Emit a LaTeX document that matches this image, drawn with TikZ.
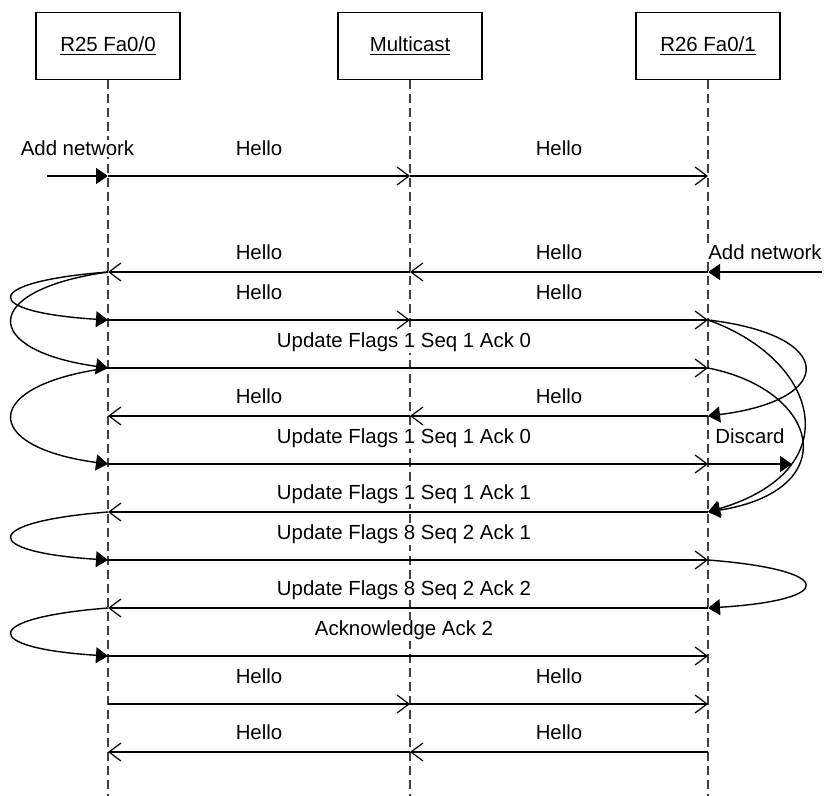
\documentclass[tikz,border=0pt]{standalone}
\usepackage{fontspec}
\setmainfont{Liberation Sans}
\usetikzlibrary{arrows.meta,positioning}

\begin{document}
\begin{tikzpicture}[
  x=0.5pt, y=-0.5pt,
  every node/.style={font=\fontsize{10.2}{12}\selectfont},
  obj/.style={draw, line width=0.6pt, minimum width=72pt,
    minimum height=33.5pt, inner sep=0pt},
  life/.style={line width=0.6pt, black!75, dash pattern=on 4.5pt off 2.5pt},
  msg/.style={line width=0.6pt, -{Straight Barb[length=6pt,width=9pt]}},
  ext/.style={line width=0.6pt, -{Triangle[length=6pt,width=8pt]}},
  selfarr/.style={line width=0.7pt, -{Triangle[length=6pt,width=8pt]}},
  lblr/.style={anchor=base, inner sep=0.5pt, fill=white, yshift=10.3pt},
  lbll/.style={anchor=base, inner sep=0.5pt, fill=white, yshift=6.4pt},
]
\useasboundingbox (0,0) rectangle (825,796);

% Objects
\node[obj] (r25) at (108,46) {\underline{R25 Fa0/0}};
\node[obj] (mc)  at (410,46) {\underline{Multicast}};
\node[obj] (r26) at (708,46) {\underline{R26 Fa0/1}};

% Lifelines
\draw[life] (r25.south) -- (r25.south |- 0,796);
\draw[life] (mc.south)  -- (mc.south |- 0,796);
\draw[life] (r26.south) -- (r26.south |- 0,796);

% Points on the lifelines, one per row
\foreach \r/\y in {1/176,2/272,3/320,4/368,5/416,6/464,7/512,8/560,9/608,10/656,11/704,12/752} {
  \coordinate (a\r) at (108,\y);
  \coordinate (m\r) at (410,\y);
  \coordinate (b\r) at (708,\y);
}
\coordinate (inL) at (47,176);
\coordinate (inR) at (822,272);
\coordinate (drop) at (792,464);

% Row 1
\draw[ext] (inL) -- node[lblr] {Add network} (a1);
\draw[msg] (a1) -- node[lblr] {Hello} (m1);
\draw[msg] (m1) -- node[lblr] {Hello} (b1);

% Row 2
\draw[ext] (inR) -- node[lbll] {Add network} (b2);
\draw[msg] (b2) -- node[lbll] {Hello} (m2);
\draw[msg] (m2) -- node[lbll] {Hello} (a2);

% Row 3
\draw[msg] (a3) -- node[lblr] {Hello} (m3);
\draw[msg] (m3) -- node[lblr] {Hello} (b3);

% Row 4
\draw[msg] (a4) -- node[lblr, xshift=-2pt] {Update Flags 1 Seq 1 Ack 0} (b4);

% Row 5
\draw[msg] (b5) -- node[lbll] {Hello} (m5);
\draw[msg] (m5) -- node[lbll] {Hello} (a5);

% Row 6
\draw[msg] (a6) -- node[lblr, xshift=-2pt] {Update Flags 1 Seq 1 Ack 0} (b6);
\draw[ext] (b6) -- node[lblr] {Discard} (drop);

% Rows 7-10
\draw[msg] (b7) -- node[lbll, xshift=-2pt] {Update Flags 1 Seq 1 Ack 1} (a7);
\draw[msg] (a8) -- node[lblr, xshift=-2pt] {Update Flags 8 Seq 2 Ack 1} (b8);
\draw[msg] (b9) -- node[lbll, xshift=-2pt] {Update Flags 8 Seq 2 Ack 2} (a9);
\draw[msg] (a10) -- node[lblr, xshift=-2pt] {Acknowledge Ack 2} (b10);

% Rows 11-12
\draw[msg] (a11) -- node[lblr] {Hello} (m11);
\draw[msg] (m11) -- node[lblr] {Hello} (b11);
\draw[msg] (b12) -- node[lbll] {Hello} (m12);
\draw[msg] (m12) -- node[lbll] {Hello} (a12);

% Triggers at R25
\draw[selfarr] (a2) .. controls (-20,282) and (-20,312) .. (a3);
\draw[selfarr] (a2) .. controls (-20,290) and (-20,350) .. (a4);
\draw[selfarr] (a4) .. controls (-20,385) and (-20,447) .. (a6);
\draw[selfarr] (a7) .. controls (-20,522) and (-20,552) .. (a8);
\draw[selfarr] (a9) .. controls (-20,618) and (-20,648) .. (a10);

% Triggers at R26
\draw[selfarr] (b3) .. controls (837,335) and (837,400) .. (b5);
\draw[selfarr] (b3) .. controls (820,360) and (850,470) .. (b7);
\draw[selfarr] (b4) .. controls (820,390) and (845,490) .. (b7);
\draw[selfarr] (b8) .. controls (837,570) and (837,600) .. (b9);

\end{tikzpicture}
\end{document}
